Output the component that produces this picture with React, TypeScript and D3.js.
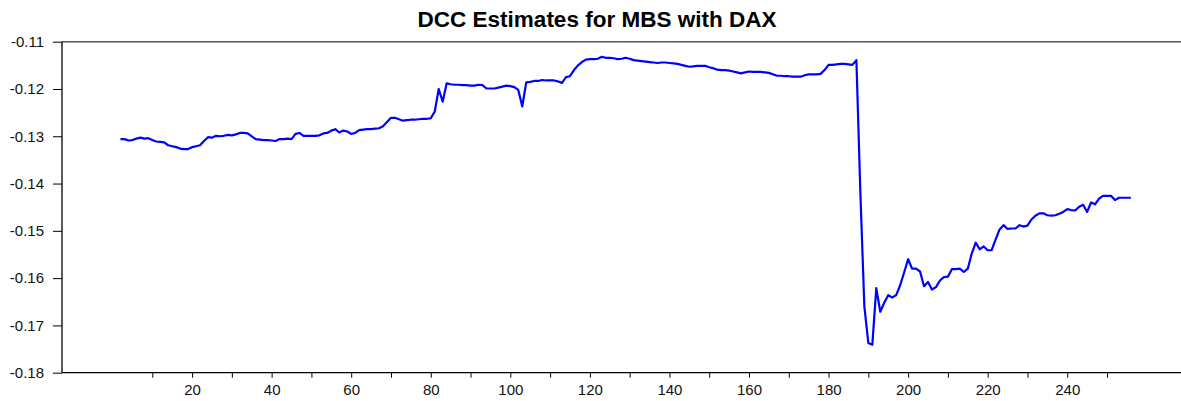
import React, { useEffect, useRef } from "react";
import * as d3 from "d3";

// DCC estimates, observations 2..256
const startObs = 2;
const dccValues = [
  -0.1306, -0.1306, -0.1309, -0.1308, -0.1305, -0.1303, -0.1305, -0.1304, -0.1308,
  -0.1311, -0.1312, -0.1313, -0.1319, -0.1321, -0.1323, -0.1326, -0.1327, -0.1327,
  -0.1323, -0.1321, -0.1319, -0.131, -0.1302, -0.1303, -0.1299, -0.13, -0.1299,
  -0.1297, -0.1298, -0.1296, -0.1293, -0.1293, -0.1294, -0.13, -0.1306, -0.1307,
  -0.1308, -0.1308, -0.1309, -0.131, -0.1306, -0.1306, -0.1305, -0.1306, -0.1295,
  -0.1293, -0.1299, -0.1299, -0.1299, -0.1299, -0.1298, -0.1294, -0.1293, -0.1288,
  -0.1285, -0.1292, -0.1288, -0.129, -0.1295, -0.1293, -0.1287, -0.1286, -0.1285,
  -0.1285, -0.1284, -0.1283, -0.1279, -0.127, -0.1261, -0.1261, -0.1264, -0.1267,
  -0.1266, -0.1265, -0.1265, -0.1264, -0.1263, -0.1263, -0.1262, -0.1248, -0.12,
  -0.1227, -0.1188, -0.119, -0.1191, -0.1191, -0.1192, -0.1192, -0.1193, -0.1193,
  -0.1191, -0.1192, -0.1199, -0.1199, -0.1199, -0.1197, -0.1195, -0.1193, -0.1194,
  -0.1196, -0.1202, -0.1237, -0.1186, -0.1185, -0.1183, -0.1183, -0.1181, -0.1182,
  -0.1182, -0.1182, -0.1184, -0.1187, -0.1175, -0.1173, -0.116, -0.115, -0.1143,
  -0.1138, -0.1137, -0.1137, -0.1136, -0.1132, -0.1134, -0.1134, -0.1135, -0.1137,
  -0.1136, -0.1134, -0.1136, -0.1139, -0.114, -0.1141, -0.1142, -0.1143, -0.1144,
  -0.1145, -0.1144, -0.1144, -0.1145, -0.1146, -0.1147, -0.1149, -0.1151, -0.1153,
  -0.1152, -0.1151, -0.1151, -0.1151, -0.1154, -0.1156, -0.1159, -0.116, -0.116,
  -0.1161, -0.1163, -0.1165, -0.1167, -0.1165, -0.1163, -0.1164, -0.1164, -0.1164,
  -0.1165, -0.1166, -0.1169, -0.1172, -0.1172, -0.1173, -0.1173, -0.1174, -0.1174,
  -0.1174, -0.1171, -0.1169, -0.1169, -0.1169, -0.1168, -0.116, -0.1149, -0.1149,
  -0.1148, -0.1147, -0.1147, -0.1148, -0.1149, -0.1139, -0.142, -0.166, -0.1737,
  -0.1741, -0.1621, -0.1671, -0.1652, -0.1636, -0.1641, -0.1636, -0.1615, -0.1588,
  -0.156, -0.158, -0.158, -0.1586, -0.1617, -0.1608, -0.1624, -0.1619, -0.1605,
  -0.1598, -0.1597, -0.1581, -0.1581, -0.158, -0.1587, -0.158, -0.1548, -0.1525,
  -0.1539, -0.1533, -0.1541, -0.1541, -0.1518, -0.1497, -0.1488, -0.1496, -0.1495,
  -0.1495, -0.1488, -0.1491, -0.1489, -0.1476, -0.1468, -0.1463, -0.1463, -0.1467,
  -0.1468, -0.1467, -0.1464, -0.146, -0.1454, -0.1456, -0.1457, -0.1449, -0.1445,
  -0.146, -0.144, -0.1444, -0.1432, -0.1426, -0.1426, -0.1426, -0.1435, -0.143,
  -0.143, -0.143, -0.143,
];

const yTicks = [-0.18, -0.17, -0.16, -0.15, -0.14, -0.13, -0.12, -0.11];
const xTicks = [
  10, 20, 30, 40, 50, 60, 70, 80, 90, 100, 110, 120, 130, 140, 150, 160, 170, 180,
  190, 200, 210, 220, 230, 240, 250,
];
const title = "DCC Estimates for MBS with DAX";

export default function App() {
  const ref = useRef<SVGSVGElement>(null);
  const width = 1181;
  const height = 401;

  useEffect(() => {
    const root = d3.select(ref.current);
    root.selectAll("*").remove();

    const font = "Arial, 'Liberation Sans', sans-serif";
    const left = 62;
    const right = 1181;

    const x = d3.scaleLinear().domain([-12.7, 268.6]).range([left, right]);
    const y = d3.scaleLinear().domain([-0.18, -0.11]).range([372.7, 41.7]);

    const data = dccValues.map((v, i) => ({ t: i + startObs, v }));

    // title
    root
      .append("text")
      .attr("x", 597)
      .attr("y", 27)
      .attr("text-anchor", "middle")
      .style("font-family", font)
      .style("font-size", "22.5px")
      .style("font-weight", "bold")
      .attr("fill", "#000")
      .text(title);

    // top frame line
    root
      .append("line")
      .attr("x1", left)
      .attr("x2", right)
      .attr("y1", y(-0.11))
      .attr("y2", y(-0.11))
      .attr("stroke", "#555")
      .attr("stroke-width", 1.6);

    // y axis
    const yAxis = d3
      .axisLeft(y)
      .tickValues(yTicks)
      .tickSize(9)
      .tickSizeOuter(0)
      .tickPadding(9)
      .tickFormat((d) => (d as number).toFixed(2));

    const gy = root.append("g").attr("transform", `translate(${left},0)`).call(yAxis);
    gy.select(".domain").remove();
    gy.selectAll("line").attr("stroke", "#000");
    gy.selectAll("text")
      .style("font-family", font)
      .style("font-size", "15px")
      .attr("fill", "#111");

    // x axis
    const xAxis = d3
      .axisBottom(x)
      .tickValues(xTicks)
      .tickSize(5)
      .tickSizeOuter(0)
      .tickPadding(7)
      .tickFormat((d) => ((d as number) % 20 === 0 ? String(d) : ""));

    const gx = root
      .append("g")
      .attr("transform", `translate(0,${y(-0.18)})`)
      .call(xAxis);
    gx.select(".domain").remove();
    gx.selectAll("line").attr("stroke", "#000");
    gx.selectAll("text")
      .style("font-family", font)
      .style("font-size", "15px")
      .attr("fill", "#111");

    // axis lines
    root
      .append("line")
      .attr("x1", left)
      .attr("x2", right)
      .attr("y1", y(-0.18))
      .attr("y2", y(-0.18))
      .attr("stroke", "#000")
      .attr("stroke-width", 1.3);
    root
      .append("line")
      .attr("x1", left)
      .attr("x2", left)
      .attr("y1", y(-0.11))
      .attr("y2", y(-0.18))
      .attr("stroke", "#000")
      .attr("stroke-width", 1.3);

    // series
    const line = d3
      .line<{ t: number; v: number }>()
      .x((d) => x(d.t))
      .y((d) => y(d.v));

    root
      .append("path")
      .datum(data)
      .attr("fill", "none")
      .attr("stroke", "#0000ff")
      .attr("stroke-width", 2.2)
      .attr("stroke-linejoin", "round")
      .attr("d", line);
  }, []);

  return (
    <div style={{ position: "absolute", left: 0, top: 0 }}>
      <svg ref={ref} width={width} height={height} style={{ display: "block", background: "#fff" }}></svg>
    </div>
  );
}
